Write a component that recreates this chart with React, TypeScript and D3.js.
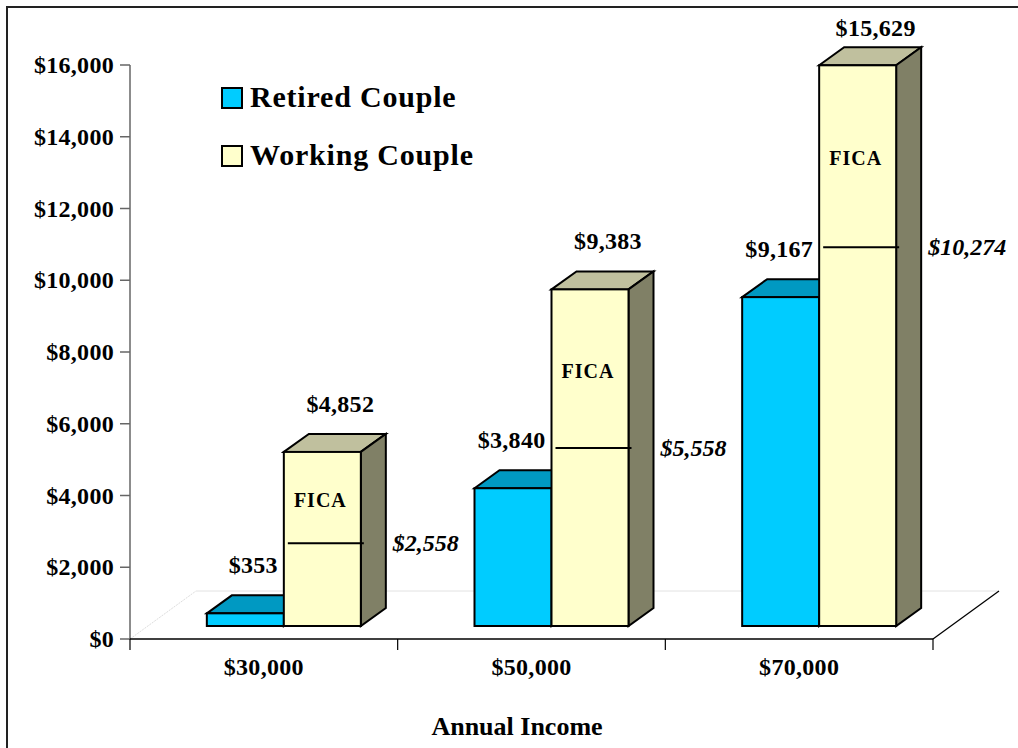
import React from "react";
import * as d3 from "d3";

const categories = ["$30,000", "$50,000", "$70,000"];
const retired = [353, 3840, 9167];
const working = [4852, 9383, 15629];
const fica = [2558, 5558, 10274];
const ficaLineLevel = [2310, 4960, 10560];
const yTicks = [0, 2000, 4000, 6000, 8000, 10000, 12000, 14000, 16000];
const seriesNames = ["Retired Couple", "Working Couple"];

const W = 1018;
const H = 748;
const FONT = "'Liberation Serif', 'Times New Roman', serif";

const fmt = (v: number) => "$" + d3.format(",")(v);

export default function App() {
  const x0 = 130, x1 = 933;
  const y = d3.scaleLinear().domain([0, 16000]).range([639, 65]);
  const xb = d3.scaleBand().domain(categories).range([x0, x1]).paddingInner(0).paddingOuter(0);
  const floorD = { dx: 66, dy: -48 };
  const front = { dx: 20, dy: -13 };
  const barD = { dx: 25, dy: -18 };
  const barW = 77;

  const colors = {
    retFront: "#00CCFF", retTop: "#0099C2", retSide: "#0088AA",
    workFront: "#FFFFCC", workTop: "#C0C09E", workSide: "#808066",
  };

  const box = (xl: number, top: number, bottom: number, c: { f: string; t: string; s: string }, key: string) => {
    const xr = xl + barW;
    const { dx, dy } = barD;
    return (
      <g key={key} stroke="#000" strokeWidth={2} strokeLinejoin="miter">
        <path d={`M${xl},${top}L${xl + dx},${top + dy}L${xr + dx},${top + dy}L${xr},${top}Z`} fill={c.t} />
        <path d={`M${xr},${top}L${xr + dx},${top + dy}L${xr + dx},${bottom + dy}L${xr},${bottom}Z`} fill={c.s} />
        <rect x={xl} y={top} width={barW} height={bottom - top} fill={c.f} />
      </g>
    );
  };

  const bold = { fontFamily: FONT, fontWeight: 700, fill: "#000" } as const;

  return (
    <svg width={W} height={H} style={{ position: "absolute", left: 0, top: 0, background: "#fff" }}>
      {/* frame */}
      <rect x={7} y={7} width={1200} height={1000} fill="#fff" stroke="#222" strokeWidth={2} />

      {/* floor */}
      <line x1={x0} y1={y(0)} x2={x0 + floorD.dx} y2={y(0) + floorD.dy} stroke="#ddd" strokeWidth={1} strokeDasharray="2,1" />
      <line x1={x0 + floorD.dx} y1={y(0) + floorD.dy} x2={x1 + floorD.dx} y2={y(0) + floorD.dy} stroke="#e2e2e2" strokeWidth={1} />
      <line x1={x1} y1={y(0)} x2={x1 + floorD.dx} y2={y(0) + floorD.dy} stroke="#000" strokeWidth={1.2} />

      {/* y axis */}
      <line x1={x0} y1={y(16000)} x2={x0} y2={y(0)} stroke="#666" strokeWidth={1.5} />
      {yTicks.map((t) => (
        <g key={t}>
          <line x1={x0 - 10} x2={x0} y1={y(t)} y2={y(t)} stroke="#666" strokeWidth={1.5} />
          <text x={x0 - 16} y={y(t)} dy="0.34em" textAnchor="end" fontSize={24} letterSpacing={0.3} {...bold}>
            {fmt(t)}
          </text>
        </g>
      ))}

      {/* x axis */}
      <line x1={x0} y1={y(0)} x2={x1} y2={y(0)} stroke="#000" strokeWidth={1.5} />
      {[...categories.map((c) => xb(c) as number), x1].map((xx, i) => (
        <line key={i} x1={xx} x2={xx} y1={y(0)} y2={y(0) + 11} stroke="#000" strokeWidth={1.2} />
      ))}
      {categories.map((c) => (
        <text key={c} x={(xb(c) as number) + xb.bandwidth() / 2} y={675} textAnchor="middle" fontSize={24} letterSpacing={0.3} {...bold}>
          {c}
        </text>
      ))}
      <text x={517} y={735} textAnchor="middle" fontSize={26} {...bold}>
        Annual Income
      </text>

      {/* bars */}
      {categories.map((c, i) => {
        const cx = (xb(c) as number) + xb.bandwidth() / 2 + front.dx;
        const bottom = y(0) + front.dy;
        const rl = cx - barW;
        const wl = cx;
        const rTop = y(retired[i]) + front.dy;
        const wTop = y(working[i]) + front.dy;
        const lineY = y(ficaLineLevel[i]) + front.dy;
        return (
          <g key={c}>
            {box(rl, rTop, bottom, { f: colors.retFront, t: colors.retTop, s: colors.retSide }, "r")}
            {box(wl, wTop, bottom, { f: colors.workFront, t: colors.workTop, s: colors.workSide }, "w")}
            <line x1={wl + 4} x2={wl + barW + 3} y1={lineY} y2={lineY} stroke="#000" strokeWidth={2} />
            <text x={wl + barW / 2 - 2} y={(wTop + lineY) / 2 + 9} textAnchor="middle" fontSize={20} letterSpacing={1} {...bold}>
              FICA
            </text>
            <text x={wl + barW / 2 + 18} y={Math.max(wTop - 40, 36)} textAnchor="middle" fontSize={24} letterSpacing={0.3} {...bold}>
              {fmt(working[i])}
            </text>
            <text x={wl - 6} y={rTop - 40} textAnchor="end" fontSize={24} letterSpacing={0.3} {...bold}>
              {fmt(retired[i])}
            </text>
            <text x={wl + barW + barD.dx + 7} y={lineY + 8} textAnchor="start" fontSize={24} fontStyle="italic" {...bold}>
              {fmt(fica[i])}
            </text>
          </g>
        );
      })}

      {/* legend */}
      {seriesNames.map((s, i) => (
        <g key={s} transform={`translate(222,${88 + i * 58})`}>
          <rect x={0} y={0} width={20} height={20} fill={i === 0 ? colors.retFront : colors.workFront} stroke="#000" strokeWidth={2} />
          <text x={28} y={19} fontSize={30} letterSpacing={0.8} {...bold}>
            {s}
          </text>
        </g>
      ))}
    </svg>
  );
}
